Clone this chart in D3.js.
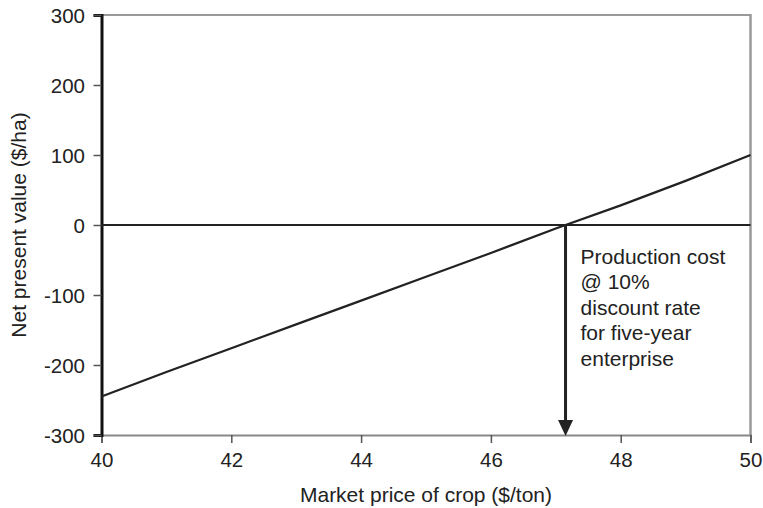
<!DOCTYPE html>
<html>
<head>
<meta charset="utf-8">
<script src="https://cdn.jsdelivr.net/npm/d3@7"></script>
<style>
  body { margin: 0; background: #fff; }
  text { font-family: "Liberation Sans", Arial, sans-serif; fill: #222; }
</style>
</head>
<body>
<svg width="763" height="508"></svg>
<script>
// chart data
var prices = [40, 41, 42, 43, 44, 45, 46, 47, 48, 49, 50];
var npv = [-245, -210, -176, -142, -108, -74, -40, -5, 28, 63, 100];
var xTicks = [40, 42, 44, 46, 48, 50];
var yTicks = [-300, -200, -100, 0, 100, 200, 300];
var breakEven = 47.15;
var noteLines = ["Production cost", "@ 10%", "discount rate", "for five-year", "enterprise"];

var svg = d3.select("svg"),
    margin = {top: 15, right: 12.5, bottom: 73, left: 101.5},
    width = +svg.attr("width") - margin.left - margin.right,
    height = +svg.attr("height") - margin.top - margin.bottom,
    g = svg.append("g").attr("transform", "translate(" + margin.left + "," + margin.top + ")");

var x = d3.scaleLinear().domain([40, 50]).range([0, width]);
var y = d3.scaleLinear().domain([-300, 300]).range([height, 0]);

var data = prices.map(function (p, i) { return {price: p, value: npv[i]}; });

// frame: top and right in grey
g.append("line")
    .attr("x1", 0).attr("x2", width).attr("y1", 0).attr("y2", 0)
    .attr("stroke", "#999").attr("stroke-width", 2);
g.append("line")
    .attr("x1", width).attr("x2", width).attr("y1", -1).attr("y2", height)
    .attr("stroke", "#999").attr("stroke-width", 2.5);

// x axis
var xAxis = g.append("g")
    .attr("transform", "translate(0," + height + ")")
    .call(d3.axisBottom(x).tickValues(xTicks).tickSize(8).tickFormat(function (d) { return d; }));
xAxis.select(".domain").attr("stroke", "#888").attr("stroke-width", 2);
xAxis.selectAll(".tick line").attr("stroke", "#555").attr("stroke-width", 1.5);
xAxis.selectAll("text")
    .attr("y", 32).attr("dy", 0)
    .style("font-size", "20.5px").attr("fill", "#222");

// y axis
var yAxis = g.append("g")
    .call(d3.axisLeft(y).tickValues(yTicks).tickSize(8).tickPadding(8.5).tickFormat(function (d) { return d; }));
yAxis.select(".domain").attr("stroke", "#111").attr("stroke-width", 3);
yAxis.selectAll(".tick line").attr("stroke", "#555").attr("stroke-width", 1.5);
yAxis.selectAll("text")
    .attr("dy", 7.5)
    .style("font-size", "20.5px").attr("fill", "#222");

// zero line
g.append("line")
    .attr("x1", 0).attr("x2", width)
    .attr("y1", y(0)).attr("y2", y(0))
    .attr("stroke", "#222").attr("stroke-width", 2);

// NPV line
var line = d3.line()
    .x(function (d) { return x(d.price); })
    .y(function (d) { return y(d.value); });
g.append("path")
    .datum(data)
    .attr("fill", "none")
    .attr("stroke", "#222")
    .attr("stroke-width", 2.2)
    .attr("d", line);

// arrow down to break-even price
var ax = x(breakEven);
g.append("line")
    .attr("x1", ax).attr("x2", ax)
    .attr("y1", y(0)).attr("y2", height - 12)
    .attr("stroke", "#222").attr("stroke-width", 3);
g.append("path")
    .attr("d", "M" + (ax - 7.5) + "," + (height - 15) + "L" + (ax + 7.5) + "," + (height - 15) + "L" + ax + "," + (height + 1) + "Z")
    .attr("fill", "#222");

// annotation
var note = g.append("text")
    .attr("x", ax + 15)
    .attr("y", y(0) + 38.5)
    .style("font-size", "21px");
noteLines.forEach(function (t, i) {
    note.append("tspan")
        .attr("x", ax + 15)
        .attr("dy", i === 0 ? 0 : 25.5)
        .text(t);
});

// axis titles
svg.append("text")
    .attr("x", margin.left + width / 2)
    .attr("y", 501.5)
    .attr("text-anchor", "middle")
    .style("font-size", "21px")
    .text("Market price of crop ($/ton)");
svg.append("text")
    .attr("transform", "translate(26," + (margin.top + height / 2) + ") rotate(-90)")
    .attr("text-anchor", "middle")
    .style("font-size", "21px")
    .text("Net present value ($/ha)");
</script>
</body>
</html>
